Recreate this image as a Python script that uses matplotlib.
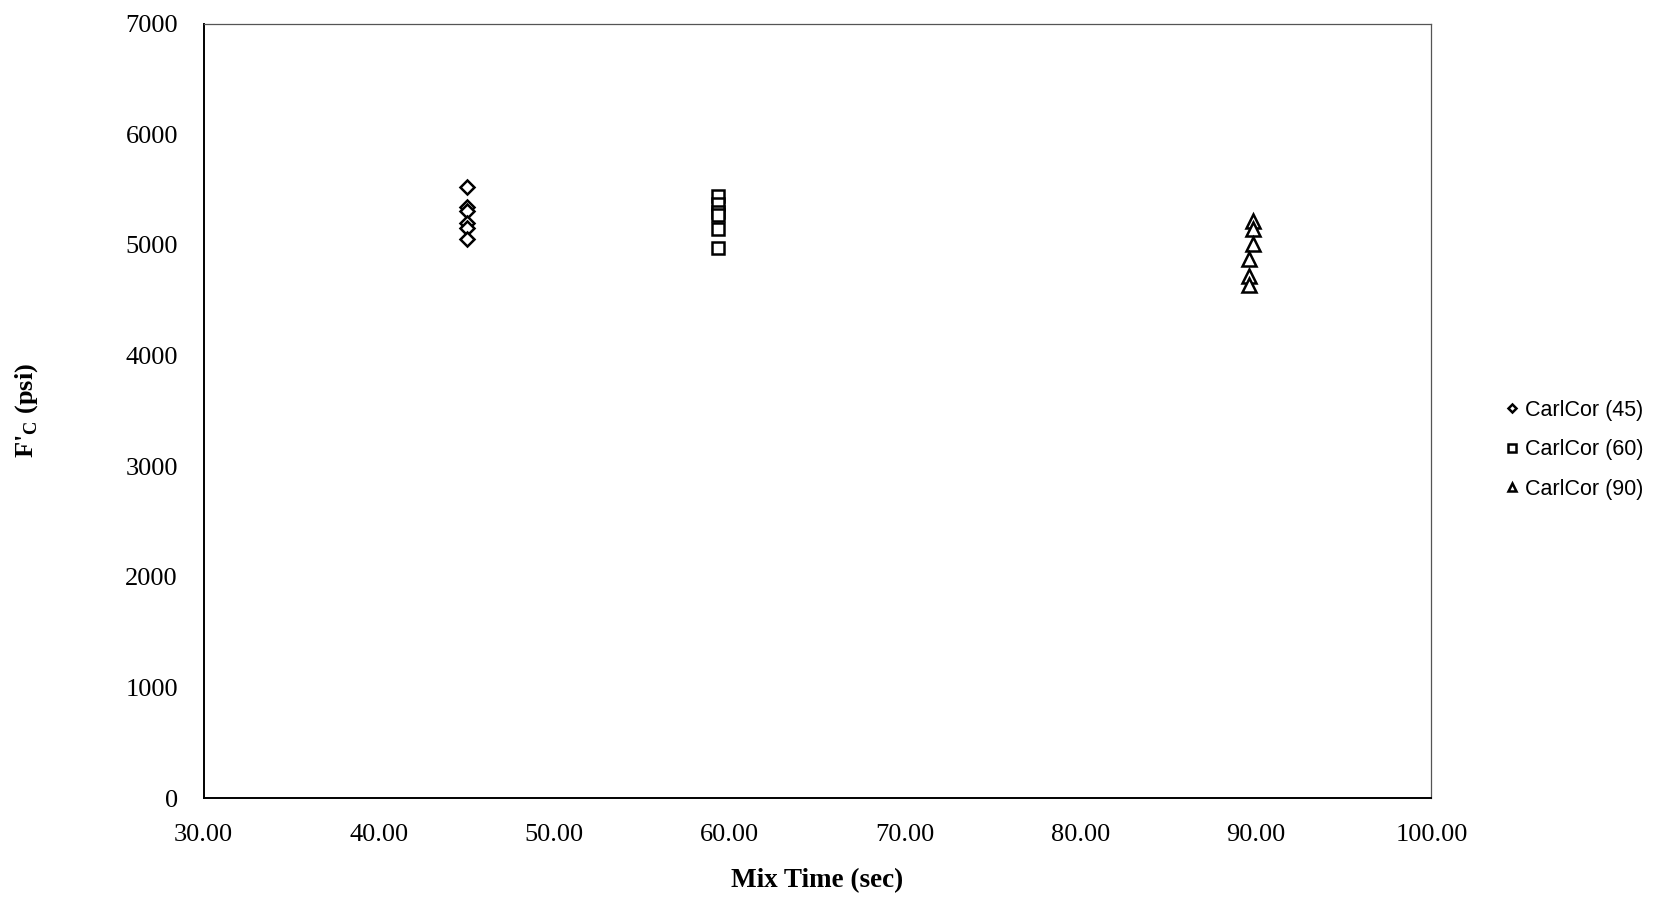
import matplotlib.pyplot as plt

# mix time (sec) and compressive strength (psi)
x45 = [45.0, 45.0, 45.0, 45.0, 45.0, 45.0]
y45 = [5520, 5340, 5310, 5200, 5150, 5050]
x60 = [59.35, 59.35, 59.35, 59.35, 59.35, 59.35]
y60 = [5440, 5370, 5300, 5270, 5140, 4970]
x90 = [89.85, 89.85, 89.85, 89.6, 89.6, 89.6]
y90 = [5220, 5140, 5010, 4870, 4720, 4640]
names = ["CarlCor (45)", "CarlCor (60)", "CarlCor (90)"]

xticks = [30, 40, 50, 60, 70, 80, 90, 100]
yticks = [0, 1000, 2000, 3000, 4000, 5000, 6000, 7000]

serif = "Liberation Serif"
sans = "Liberation Sans"

fig = plt.figure(figsize=(16.8, 8.98), dpi=100)
ax = fig.add_axes([0.1212, 0.111, 0.7308, 0.8627])

ax.plot(x45, y45, linestyle="none", marker="D", markersize=7.5, markerfacecolor="white",
        markeredgecolor="black", markeredgewidth=1.8, label=names[0])
ax.plot(x60, y60, linestyle="none", marker="s", markersize=9, markerfacecolor="white",
        markeredgecolor="black", markeredgewidth=1.8, label=names[1])
ax.plot(x90, y90, linestyle="none", marker="^", markersize=10, markerfacecolor="white",
        markeredgecolor="black", markeredgewidth=1.8, label=names[2])

ax.set_xlim(30, 100)
ax.set_ylim(0, 7000)
ax.set_xticks(xticks)
ax.set_xticklabels(["%.2f" % v for v in xticks], fontfamily=serif, fontsize=19)
ax.set_yticks(yticks)
ax.set_yticklabels([str(v) for v in yticks], fontfamily=serif, fontsize=19)
ax.tick_params(axis="x", length=0, pad=18.5)
ax.tick_params(axis="y", length=0, pad=18.5)

for side in ["left", "bottom"]:
    ax.spines[side].set_linewidth(1.4)
for side in ["top", "right"]:
    ax.spines[side].set_linewidth(0.9)
    ax.spines[side].set_color("#555555")

ax.set_xlabel("Mix Time (sec)", fontfamily=serif, fontweight="bold", fontsize=19.5)
ax.xaxis.set_label_coords(0.5, -0.09)
ax.set_ylabel(r"F'$_\mathregular{C}$ (psi)", fontfamily=serif, fontweight="bold", fontsize=19)
ax.yaxis.set_label_coords(-0.133, 0.5)

leg = ax.legend(loc="center left", bbox_to_anchor=(1.045, 0.45), frameon=False,
                prop={"family": sans, "size": 15.5}, markerscale=0.6,
                handlelength=0.6, handletextpad=0.3, labelspacing=0.85)

fig.savefig("out.png", dpi=100)
